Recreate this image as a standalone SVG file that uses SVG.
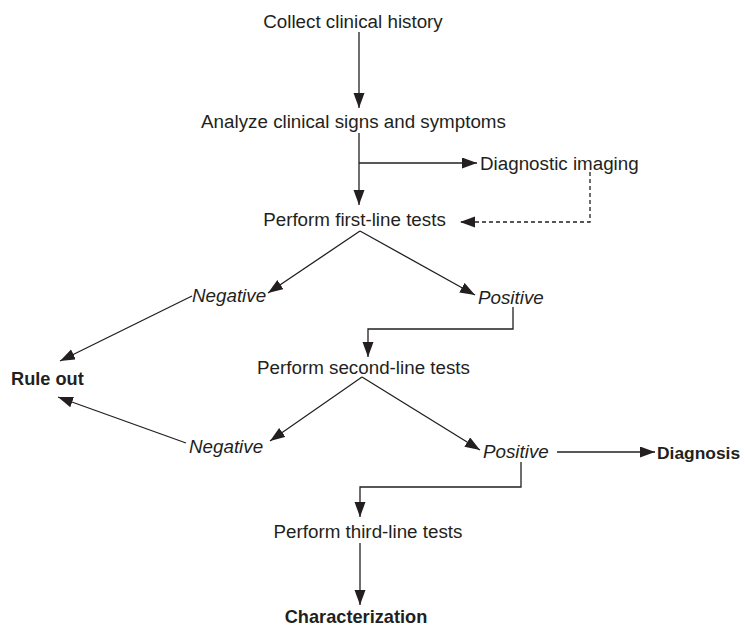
<svg xmlns="http://www.w3.org/2000/svg" width="745" height="626" viewBox="0 0 745 626">
<style>
text{font-family:"Liberation Sans",Arial,sans-serif;font-size:18.8px;fill:#231f20}
.b{font-weight:bold;font-size:18.2px}
.i{font-style:italic}
.c{text-anchor:middle}
.ln{fill:none;stroke:#231f20;stroke-width:1.3;marker-end:url(#ah)}
.d{stroke-dasharray:4 3}
</style>
<defs>
<marker id="ah" markerUnits="userSpaceOnUse" markerWidth="16" markerHeight="12" refX="15" refY="5.5" orient="auto">
<path d="M0,0 L15,5.5 L0,11 z" fill="#231f20"/>
</marker>
</defs>
<rect width="745" height="626" fill="#fff"/>
<g id="connectors">
<path class="ln" d="M359,32 V108"/>
<path class="ln" d="M359,133 V205"/>
<path class="ln" d="M359,163 H477"/>
<path class="ln d" d="M590,172 V222 H460"/>
<path class="ln" d="M360,231 L268,293"/>
<path class="ln" d="M360,231 L475,295"/>
<path class="ln" d="M192,296 L60,361"/>
<path class="ln" d="M513,307 V329 H368 V357"/>
<path class="ln" d="M362,377 L270,441"/>
<path class="ln" d="M362,377 L480,450"/>
<path class="ln" d="M186,443 L58,397"/>
<path class="ln" d="M557,452 H655"/>
<path class="ln" d="M521,462 V487 H360 V517"/>
<path class="ln" d="M360,543 V605"/>
</g>
<g id="collect"><text class="c" x="353" y="28">Collect clinical history</text></g>
<g id="analyze"><text class="c" x="353.5" y="128">Analyze clinical signs and symptoms</text></g>
<g id="imaging"><text x="480" y="169.5">Diagnostic imaging</text></g>
<g id="first"><text class="c" x="354.5" y="226">Perform first-line tests</text></g>
<g id="neg1"><text class="i" x="192" y="301.5">Negative</text></g>
<g id="pos1"><text class="i" x="478" y="303.5">Positive</text></g>
<g id="ruleout"><text class="b" x="11" y="384.5">Rule out</text></g>
<g id="second"><text class="c" x="363.5" y="373.5">Perform second-line tests</text></g>
<g id="neg2"><text class="i" x="189" y="453">Negative</text></g>
<g id="pos2"><text class="i" x="483" y="458">Positive</text></g>
<g id="diagnosis"><text class="b" x="657" y="458.5" style="font-size:17.4px">Diagnosis</text></g>
<g id="third"><text class="c" x="368" y="537.5">Perform third-line tests</text></g>
<g id="char"><text class="b c" x="356" y="622.5">Characterization</text></g>
</svg>
